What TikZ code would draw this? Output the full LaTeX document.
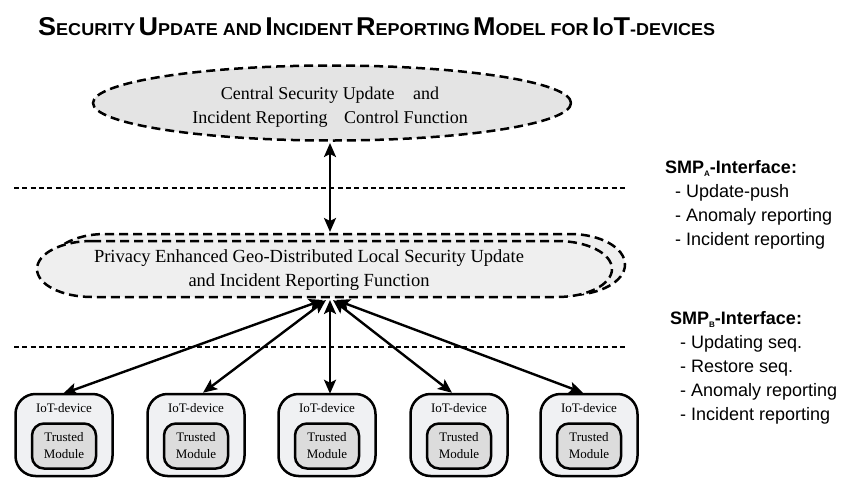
\documentclass[tikz,border=0pt]{standalone}
\usepackage{fontspec}
\usepackage{graphicx}
\setmainfont{Liberation Serif}
\setsansfont{Liberation Sans}
\usetikzlibrary{shapes.geometric,shapes.misc,arrows.meta}
\definecolor{ellfill}{HTML}{E4E4E4}
\definecolor{midfill}{HTML}{EFEFEF}
\definecolor{devfill}{HTML}{F0F1F3}
\definecolor{tmfill}{HTML}{DCDCDC}
\newcommand{\ttlB}[1]{{\fontsize{22.5}{22}\selectfont #1}}
\newcommand{\ttlS}[1]{{\fontsize{15}{15}\selectfont #1}}
\newcommand{\smpsub}[1]{\raisebox{-3pt}{\fontsize{8}{8}\selectfont #1}}
\begin{document}
\begin{tikzpicture}[x=1pt,y=-1pt,
  dashbox/.style={draw=black, line width=2.5pt, dash pattern=on 9pt off 5pt},
  sepline/.style={line width=2.3pt, dash pattern=on 5pt off 3.3pt},
  conn/.style={line width=2.4pt, {Stealth[length=14pt,width=12pt,inset=3pt]}-{Stealth[length=14pt,width=12pt,inset=3pt]}},
  dev/.style={draw, line width=2.5pt, rounded corners=20pt, fill=devfill, minimum width=97pt, minimum height=82pt, inner sep=0pt},
  tm/.style={draw, line width=2.5pt, rounded corners=12pt, fill=tmfill, minimum width=64pt, minimum height=45pt, inner sep=0pt, align=center, font=\fontsize{13}{17}\selectfont},
  devlbl/.style={font=\fontsize{13}{15}\selectfont, inner sep=0pt},
  bigtxt/.style={font=\fontsize{18}{24}\selectfont, align=center, inner sep=0pt},
  iface/.style={font=\sffamily\fontsize{18}{24}\selectfont, align=left, anchor=north west, inner sep=0pt}
]
\useasboundingbox (0,0) rectangle (844,477);
\fill[white] (0,0) rectangle (844,477);

% title
\node[anchor=base west, inner sep=0pt] (title) at (38,35) {\resizebox{677pt}{18pt}{\sffamily\bfseries
 \ttlB{S}\ttlS{ECURITY} \ttlB{U}\ttlS{PDATE AND} \ttlB{I}\ttlS{NCIDENT} \ttlB{R}\ttlS{EPORTING} \ttlB{M}\ttlS{ODEL FOR} \ttlB{I}\ttlS{O}\ttlB{T}\ttlS{-DEVICES}}};

% central ellipse
\node[ellipse, dashbox, fill=ellfill, minimum width=478pt, minimum height=75pt, inner sep=0pt] (central) at (332,103) {};
\node[bigtxt] (centraltxt) at (330,107) {Central Security Update\hspace{14pt} and\\Incident Reporting\hspace{12pt} Control Function};

% separator lines
\coordinate (s1a) at (14,188); \coordinate (s1b) at (628,188);
\coordinate (s2a) at (14,347); \coordinate (s2b) at (628,347);
\draw[sepline] (s1a) -- (s1b);
\draw[sepline] (s2a) -- (s2b);

% local function (two stacked shapes)
\draw[dashbox, fill=midfill] (105,234) -- (570,234) .. controls (600.4,234) and (625,247.7) .. (625,264.5) .. controls (625,281.3) and (600.4,295) .. (570,295) -- (105,295) .. controls (74.6,295) and (50,281.3) .. (50,264.5) .. controls (50,247.7) and (74.6,234) .. (105,234) -- cycle;
\draw[dashbox, fill=midfill] (92,241) -- (557,241) .. controls (587.4,241) and (612,253.5) .. (612,269) .. controls (612,284.5) and (587.4,297) .. (557,297) -- (92,297) .. controls (61.6,297) and (37,284.5) .. (37,269) .. controls (37,253.5) and (61.6,241) .. (92,241) -- cycle;
\node[bigtxt, font=\fontsize{18.5}{24.5}\selectfont] (local) at (309,270) {Privacy Enhanced Geo-Distributed Local Security Update\\and Incident Reporting Function};

% SMP-A arrow
\coordinate (ca) at (330,143);
\coordinate (cb) at (330,232);
\draw[conn] (ca) -- (cb);

% devices
\foreach \i/\x in {1/64,2/196,3/327,4/459,5/589}{
  \node[dev] (d\i) at (\x,435) {};
  \node[devlbl] (l\i) at (\x,408) {IoT-device};
  \node[tm] (t\i) at (\x,446) {Trusted\\Module};
}

% arrows to devices
\coordinate (h1) at (323,300);
\coordinate (h2) at (326,300);
\coordinate (h3) at (330,300);
\coordinate (h4) at (333,300);
\coordinate (h5) at (336,300);
\draw[conn] (h1) -- ([xshift=-1pt,yshift=-1pt]d1.north);
\draw[conn] (h2) -- ([xshift=7pt]d2.north);
\draw[conn] (h3) -- ([xshift=3pt,yshift=-1pt]d3.north);
\draw[conn] (h4) -- ([xshift=-7pt]d4.north);
\draw[conn] (h5) -- ([xshift=-6pt]d5.north);

% interface texts
\node[iface] (smpa) at (665,160) {\textbf{SMP\smpsub{A}-Interface:}\\\hspace{10pt}- Update-push\\\hspace{10pt}- Anomaly reporting\\\hspace{10pt}- Incident reporting};
\node[iface] (smpb) at (670,311) {\textbf{SMP\smpsub{B}-Interface:}\\\hspace{10pt}- Updating seq.\\\hspace{10pt}- Restore seq.\\\hspace{10pt}- Anomaly reporting\\\hspace{10pt}- Incident reporting};
\end{tikzpicture}
\end{document}
